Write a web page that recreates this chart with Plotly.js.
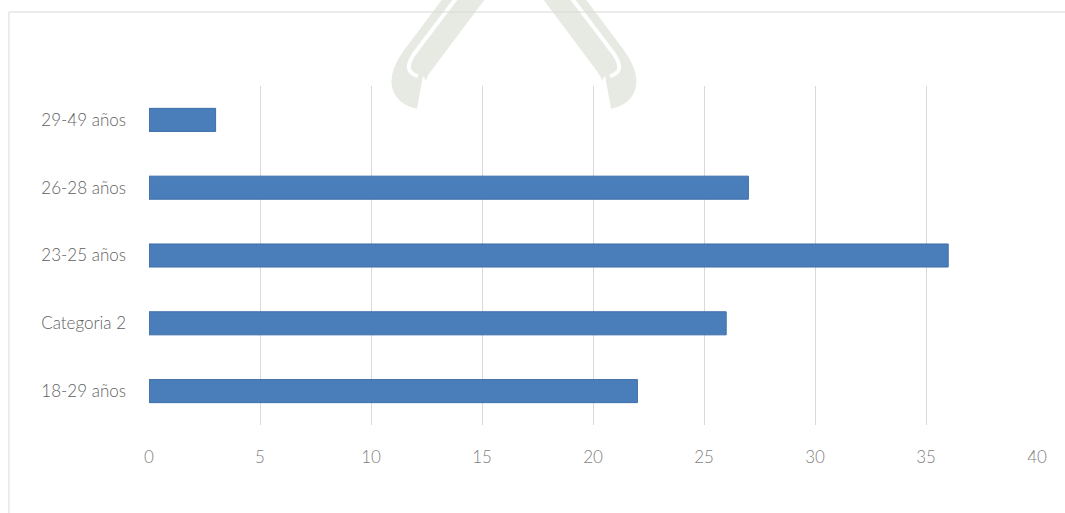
<!DOCTYPE html>
<html>
<head>
<meta charset="utf-8">
<script src="https://cdn.plot.ly/plotly-3.0.1.min.js"></script>
<style>html,body{margin:0;padding:0;background:#fff;}#chart{width:1065px;height:513px;}</style>
</head>
<body>
<div id="chart"></div>
<script>
const categories = ["18-29 años", "Categoria 2", "23-25 años", "26-28 años", "29-49 años"];
const values = [22, 26, 36, 27, 3];
const xTicks = [0, 5, 10, 15, 20, 25, 30, 35, 40];

// pixel -> paper helper for decorative frame / watermark only
const L = 149, R = 28, T = 86, B = 88, W = 1065, H = 513;
const pw = W - L - R, ph = H - T - B;
function px(x) { return ((x - L) / pw).toFixed(4); }
function py(y) { return ((H - B - y) / ph).toFixed(4); }
function pt(x, y) { return px(x) + "," + py(y); }

const trace = {
  type: "bar",
  orientation: "h",
  y: categories,
  x: values,
  width: 0.34,
  marker: {color: "#4a7ebb", line: {color: "#3f6ea8", width: 1}},
  hoverinfo: "x+y"
};

const wmColor = "#e7eae2";
const layout = {
  width: W,
  height: H,
  margin: {l: L, r: R, t: T, b: B},
  paper_bgcolor: "#ffffff",
  plot_bgcolor: "rgba(0,0,0,0)",
  showlegend: false,
  font: {family: "Lato, 'Open Sans', sans-serif", size: 17, color: "#666666", weight: 300},
  xaxis: {
    range: [0, 40],
    tickvals: xTicks,
    ticktext: xTicks.map(String),
    showgrid: true,
    gridcolor: "#d9d9d9",
    gridwidth: 1,
    zeroline: false,
    showline: false,
    ticks: "",
    ticklabelstandoff: 20,
    tickfont: {size: 17, color: "#7f7f7f", weight: 300},
    fixedrange: true
  },
  yaxis: {
    type: "category",
    categoryorder: "array",
    categoryarray: categories,
    range: [-0.5, 4.5],
    showgrid: false,
    zeroline: false,
    showline: false,
    ticks: "",
    ticklabelstandoff: 22,
    tickfont: {size: 17, color: "#5f5f5f", weight: 300},
    fixedrange: true
  },
  shapes: [
    // faint watermark arms
    {type: "path", xref: "paper", yref: "paper", layer: "below",
     path: "M" + pt(472, -12) + " L" + pt(418, 60) + " Q" + pt(398, 88) + " " + pt(420, 92),
     line: {color: wmColor, width: 34}},
    {type: "path", xref: "paper", yref: "paper", layer: "below",
     path: "M" + pt(464, -12) + " L" + pt(414, 54) + " Q" + pt(402, 72) + " " + pt(418, 76),
     line: {color: "#ffffff", width: 4}},
    {type: "path", xref: "paper", yref: "paper", layer: "below",
     path: "M" + pt(556, -12) + " L" + pt(610, 60) + " Q" + pt(630, 88) + " " + pt(608, 92),
     line: {color: wmColor, width: 34}},
    {type: "path", xref: "paper", yref: "paper", layer: "below",
     path: "M" + pt(564, -12) + " L" + pt(614, 54) + " Q" + pt(626, 72) + " " + pt(610, 76),
     line: {color: "#ffffff", width: 4}},
    // frame
    {type: "line", xref: "paper", yref: "paper", x0: px(9), x1: px(1070), y0: py(12), y1: py(12), line: {color: "#d9d9d9", width: 1}},
    {type: "line", xref: "paper", yref: "paper", x0: px(9), x1: px(9), y0: py(12), y1: py(520), line: {color: "#d9d9d9", width: 1}}
  ]
};

Plotly.newPlot("chart", [trace], layout, {displayModeBar: false, staticPlot: true});
</script>
</body>
</html>
